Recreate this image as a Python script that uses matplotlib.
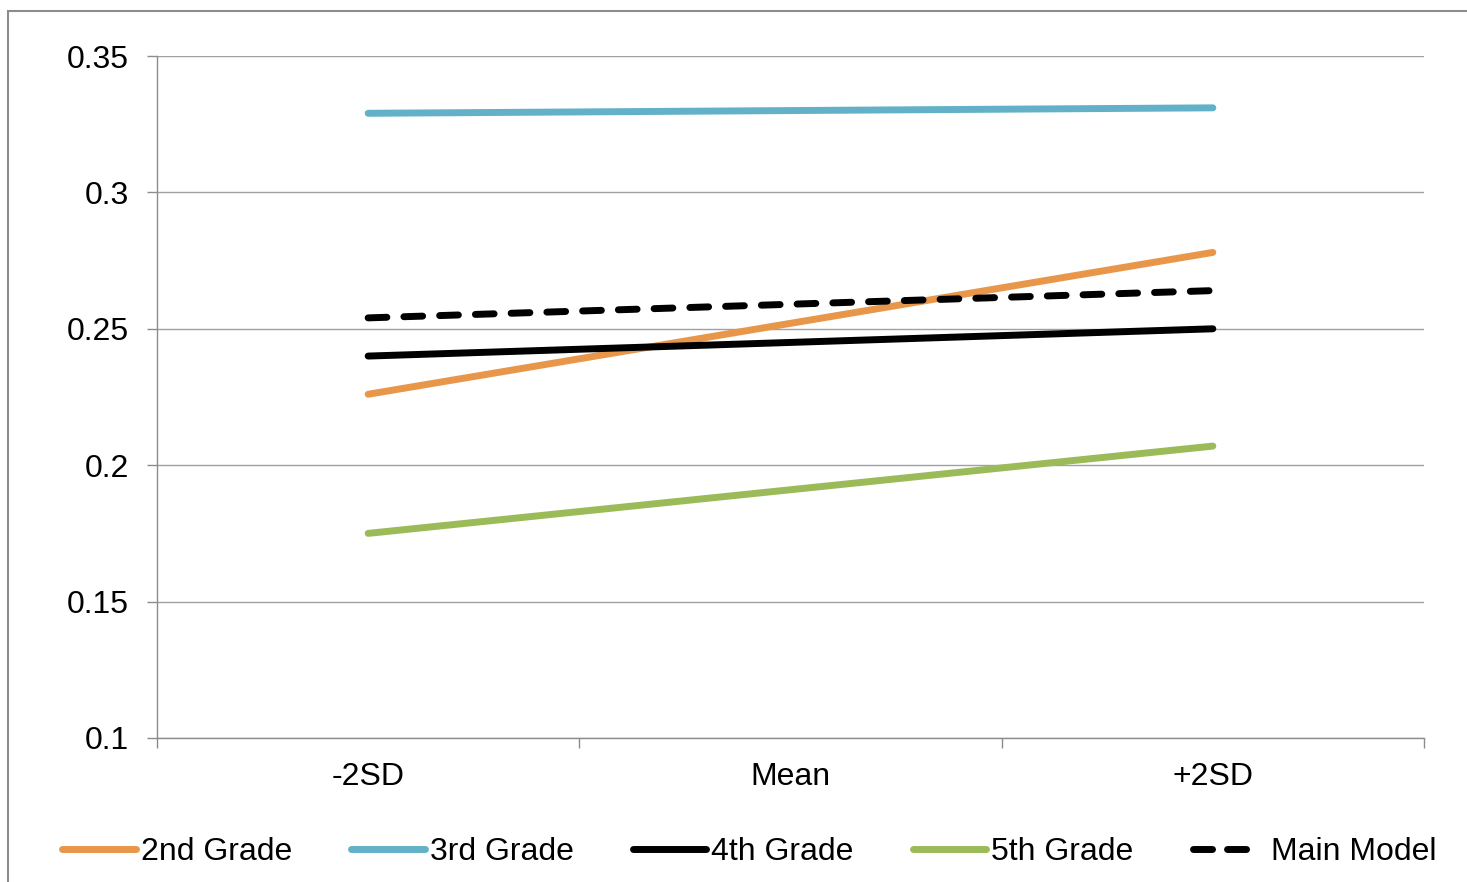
import matplotlib.pyplot as plt
from matplotlib.lines import Line2D
from matplotlib.patches import Rectangle

# Predicted values at -2SD, mean and +2SD
levels = ["-2SD", "Mean", "+2SD"]
grade2 = [0.226, 0.252, 0.278]
grade3 = [0.329, 0.330, 0.331]
grade4 = [0.240, 0.245, 0.250]
grade5 = [0.175, 0.191, 0.207]
main_model = [0.254, 0.259, 0.264]

plt.rcParams['font.family'] = ['Liberation Sans', 'DejaVu Sans']

fig = plt.figure(figsize=(14.67, 8.82), dpi=100)
ax = fig.add_axes([0.107, 0.1633, 0.8637, 0.7732])

# outer chart border
fig.patches.append(Rectangle((8 / 1467, -0.05), 1.1, 1 - 11 / 882 + 0.05,
                             transform=fig.transFigure, fill=False,
                             edgecolor='#8c8c8c', linewidth=1.5))

x = range(len(levels))
lw = 5
ax.plot(x, grade2, color='#E8974A', lw=lw, solid_capstyle='round', label='2nd Grade')
ax.plot(x, grade3, color='#63B1C8', lw=lw, solid_capstyle='round', label='3rd Grade')
ax.plot(x, grade4, color='black', lw=lw, solid_capstyle='round', label='4th Grade')
ax.plot(x, grade5, color='#9BBB59', lw=lw, solid_capstyle='round', label='5th Grade')
ax.plot(x, main_model, color='black', lw=lw, linestyle=(0, (2.7, 2.45)),
        dash_capstyle='round', label='Main Model')

ax.set_xlim(-0.5, 2.5)
ax.set_ylim(0.1, 0.35)
ax.set_yticks([0.1, 0.15, 0.2, 0.25, 0.3, 0.35])
ax.set_yticklabels(['0.1', '0.15', '0.2', '0.25', '0.3', '0.35'])
ax.set_xticks([0, 1, 2])
ax.set_xticklabels(levels)
ax.set_xticks([-0.5, 0.5, 1.5, 2.5], minor=True)
ax.tick_params(axis='x', which='major', length=0, pad=17, labelsize=23)
ax.tick_params(axis='x', which='minor', length=7, color='#8c8c8c', width=1)
ax.tick_params(axis='y', length=7, color='#8c8c8c', width=1, pad=13, labelsize=23)

ax.grid(axis='y', color='#a0a0a0', linewidth=1)
ax.set_axisbelow(True)
for side in ['top', 'right']:
    ax.spines[side].set_visible(False)
for side in ['left', 'bottom']:
    ax.spines[side].set_color('#8c8c8c')
    ax.spines[side].set_linewidth(1)

# legend: two clean dashes for the main model key
handles, labels = ax.get_legend_handles_labels()
handles[-1] = Line2D([], [], color='black', lw=lw, dash_capstyle='round',
                     linestyle=(0, (2.74, 2.16, 2.74, 20)))
fig.legend(handles, labels, loc='center', bbox_to_anchor=(0.511, 0.034), ncol=5,
           frameon=False, fontsize=23, handlelength=2.3, handletextpad=0.16,
           columnspacing=1.85)

fig.savefig('out.png', dpi=100)
